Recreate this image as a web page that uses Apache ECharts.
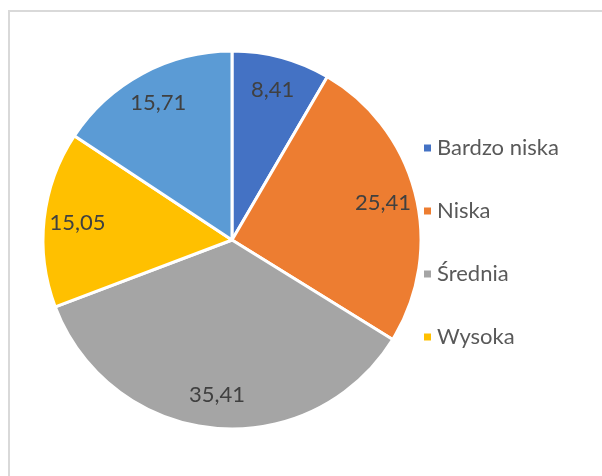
<!DOCTYPE html>
<html>
<head>
<meta charset="utf-8">
<script src="https://cdn.jsdelivr.net/npm/echarts@6/dist/echarts.min.js"></script>
<style>
  html, body { margin: 0; padding: 0; background: #fff; }
  #chart { width: 602px; height: 476px; }
</style>
</head>
<body>
<div id="chart"></div>
<script>
var categories = ["Bardzo niska", "Niska", "Średnia", "Wysoka", "Bardzo wysoka"];
var values = [8.41, 25.41, 35.41, 15.05, 15.71];
var colors = ["#4472C4", "#ED7D31", "#A5A5A5", "#FFC000", "#5B9BD5"];
var legendNames = ["Bardzo niska", "Niska", "Średnia", "Wysoka"];

var chart = echarts.init(document.getElementById("chart"));
var pieData = categories.map(function (name, i) {
  return { name: name, value: values[i], itemStyle: { color: colors[i] } };
});
var labelData = categories.map(function (name, i) {
  return { name: name, value: values[i] };
});
var center = [232, 240];

var option = {
  animation: false,
  backgroundColor: "#fff",
  graphic: [
    {
      type: "rect",
      shape: { x: 9, y: 11, width: 640, height: 520 },
      style: { fill: "none", stroke: "#d9d9d9", lineWidth: 2 },
      silent: true
    }
  ],
  legend: {
    data: legendNames,
    orient: "vertical",
    left: 417,
    top: 132,
    itemWidth: 9,
    itemHeight: 9,
    itemGap: 41,
    icon: "rect",
    textStyle: { color: "#595959", fontSize: 22, fontFamily: "Lato" }
  },
  series: [
    {
      type: "pie",
      center: center,
      radius: 189,
      startAngle: 90,
      clockwise: true,
      data: pieData,
      itemStyle: { borderColor: "#fff", borderWidth: 3 },
      label: { show: false },
      labelLine: { show: false },
      emphasis: { disabled: true }
    },
    {
      // transparent ring only used to place the value labels
      type: "pie",
      center: center,
      radius: [116, 189],
      startAngle: 90,
      clockwise: true,
      silent: true,
      data: labelData,
      itemStyle: { color: "rgba(0,0,0,0)" },
      label: {
        show: true,
        position: "inside",
        color: "#404040",
        fontSize: 22,
        fontFamily: "Lato",
        formatter: function (p) {
          return p.value.toFixed(2).replace(".", ",");
        }
      },
      labelLine: { show: false },
      emphasis: { disabled: true }
    }
  ]
};
chart.setOption(option);
</script>
</body>
</html>
